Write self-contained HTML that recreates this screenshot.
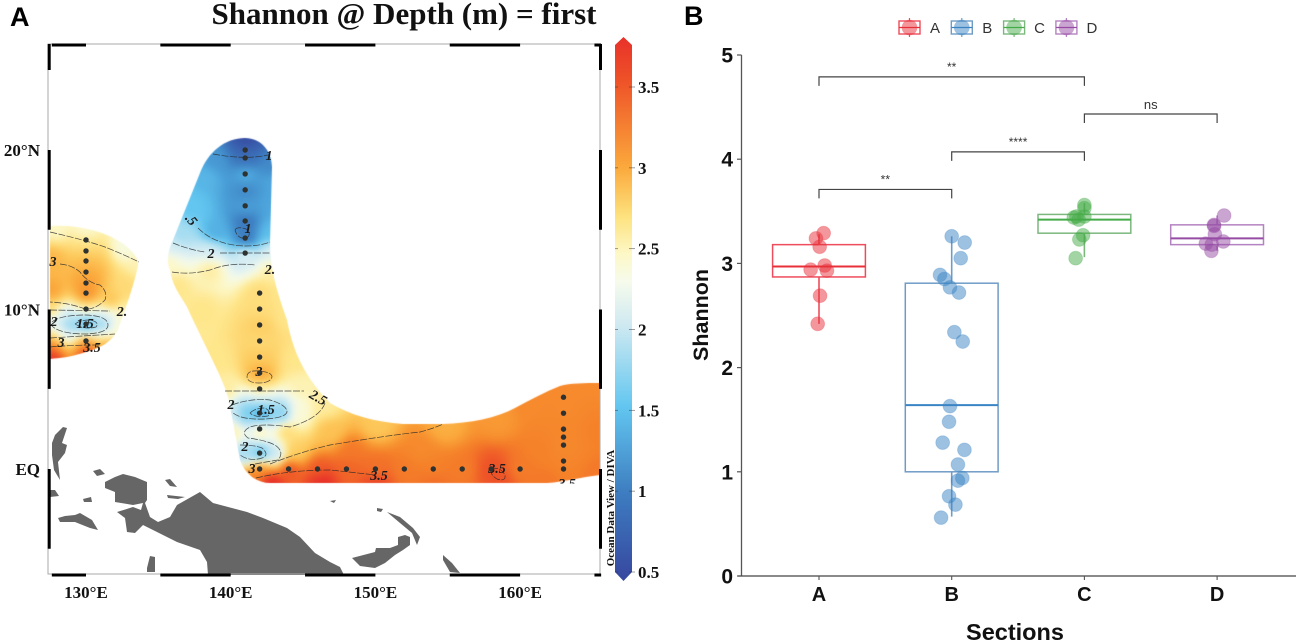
<!DOCTYPE html>
<html lang="en">
<head>
<meta charset="utf-8">
<title>Shannon diversity map and boxplot</title>
<style>
html,body{margin:0;padding:0;background:#fff;}
#figure{position:relative;width:1297px;height:642px;overflow:hidden;background:#fff;}
#field{position:absolute;left:0;top:0;}
#overlay{position:absolute;left:0;top:0;}
.serif{font-family:"Liberation Serif",serif;font-weight:bold;fill:#111;}
.sans{font-family:"Liberation Sans",sans-serif;}
.contour{fill:none;stroke:#2a2a2a;stroke-width:.7;stroke-dasharray:7 1.5;opacity:.85;}
.clabel{font-family:"Liberation Serif",serif;font-weight:bold;font-style:italic;font-size:14px;fill:#1a1a1a;text-anchor:middle;}
</style>
</head>
<body>
<div id="figure">
<canvas id="field" width="1297" height="642"></canvas>
<svg id="overlay" width="1297" height="642" viewBox="0 0 1297 642" xmlns="http://www.w3.org/2000/svg">
  <defs>
    <linearGradient id="cbgrad" x1="0" y1="0" x2="0" y2="1">
      <stop offset="0" stop-color="#e8312a"/>
      <stop offset=".08" stop-color="#ee5228"/>
      <stop offset=".24" stop-color="#fba93c"/>
      <stop offset=".33" stop-color="#fde27e"/>
      <stop offset=".40" stop-color="#fdf8c8"/>
      <stop offset=".45" stop-color="#f6fbec"/>
      <stop offset=".53" stop-color="#cfe9f1"/>
      <stop offset=".68" stop-color="#62c6f0"/>
      <stop offset=".84" stop-color="#3d7cc0"/>
      <stop offset="1" stop-color="#37479f"/>
    </linearGradient>
    <clipPath id="band-clip"><rect x="500" y="380" width="100" height="103.5"/></clipPath>
  </defs>

  <text x="10" y="26" class="sans" font-size="27" font-weight="bold" fill="#000">A</text>
  <text x="684" y="25" class="sans" font-size="27" font-weight="bold" fill="#000">B</text>
  <text x="404" y="24" class="serif" font-size="31" text-anchor="middle">Shannon @ Depth (m) = first</text>

  <g fill="#666">
    <path d="M105,482 L115,477 L123,474 L135,477 L147,482 L147,500 L145,503 L150,517 L158,522 L170,517 L177,505 L200,492 L213,503 L247,512 L263,518 L287,528 L300,537 L315,553 L330,562 L340,567 L344,575 L208,575 L207,562 L200,550 L177,542 L157,532 L143,525 L135,533 L127,532 L125,518 L117,512 L133,507 L141,510 L143,503 L133,505 L115,502 L115,492 L105,488 Z"/>
    <path d="M58,518 L65,516 L75,515 L80,513 L92,520 L98,530 L90,528 L75,522 L60,522 Z"/>
    <path d="M52,443 L55,435 L63,427 L67,428 L62,443 L67,445 L65,453 L58,462 L60,480 L54,470 L52,455 Z"/>
    <path d="M50,490 L55,490 L59,496 L50,497 Z"/>
    <path d="M93,471 L100,469 L105,474 L97,476 Z"/>
    <path d="M83,499 L91,497 L92,502 L84,502 Z"/>
    <path d="M165,480 L170,479 L177,487 L170,486 Z"/>
    <path d="M167,495 L185,497 L178,499 L168,498 Z"/>
    <path d="M147,568 L150,556 L155,557 L155,572 L147,572 Z"/>
    <path d="M352,558 L375,552 L376,548 L390,548 L398,545 L398,537 L405,535 L410,537 L410,545 L403,550 L395,555 L385,563 L375,568 L360,566 Z"/>
    <path d="M387,512 L400,517 L413,528 L420,537 L417,545 L412,533 L400,523 Z"/>
    <path d="M443,555 L452,563 L460,573 L450,572 L443,560 Z"/>
    <path d="M377,508 L383,509 L381,512 L377,511 Z"/>
    <path d="M330,501 L336,500 L334,503 Z"/>
  </g>

  <g>
    <path class="contour" d="M213,154 Q245,160 268,155"/>
    <path class="contour" d="M235,230 Q237,226 246,229 Q252,233 247,238 Q238,240 235,230"/>
    <path class="contour" d="M198,228 Q215,245 245,246 Q260,246 270,242"/>
    <path class="contour" d="M173,243 Q190,250 205,252 M220,253 L270,253"/>
    <path class="contour" d="M172,272 Q190,275 210,270 Q230,262 255,265"/>
    <path class="contour" d="M50,232 Q85,240 105,247 Q125,255 139,262"/>
    <path class="contour" d="M60,264 Q72,265 80,272 Q88,283 100,285 Q108,292 105,300 Q95,310 85,309 Q70,303 50,302"/>
    <path class="contour" d="M50,310 L110,311"/>
    <path class="contour" d="M52,322 Q60,315 86,315 Q108,316 108,325 Q108,333 86,334 Q60,334 52,326"/>
    <path class="contour" d="M75,324 Q80,320 90,320 Q100,322 96,327 Q85,330 75,324"/>
    <path class="contour" d="M50,338 L115,334"/>
    <path class="contour" d="M50,347 Q70,345 100,345"/>
    <path class="contour" d="M247,377 Q247,370 259,371 Q272,372 272,377 Q270,383 259,383 Q248,383 247,377"/>
    <path class="contour" d="M225,391 L304,391"/>
    <path class="contour" d="M232,405 Q250,398 270,400 Q287,405 287,412 Q285,418 265,419 Q240,420 232,412"/>
    <path class="contour" d="M250,413 Q255,408 265,408 Q272,412 268,416 Q255,418 250,413"/>
    <path class="contour" d="M325,403 Q320,418 290,427 Q262,423 250,427 Q240,432 248,438 Q265,440 275,445 Q285,452 278,460 Q265,462 250,465"/>
    <path class="contour" d="M240,445 Q255,445 262,448 Q270,455 262,458 Q250,462 240,455"/>
    <path class="contour" d="M270,464 Q300,452 330,445 Q390,435 420,432 Q435,428 443,424"/>
    <path class="contour" d="M256,478 Q290,470 330,470 Q350,472 375,475"/>
    <path class="contour" d="M491,469 Q500,466 505,475 Q506,482 497,479 Q490,475 491,469"/>
    <text class="clabel" x="191" y="224" transform="rotate(50 191 220)">.5</text>
    <text class="clabel" x="269" y="160">1</text>
    <text class="clabel" x="248" y="233">1</text>
    <text class="clabel" x="211" y="258">2</text>
    <text class="clabel" x="270" y="274">2.</text>
    <text class="clabel" x="53" y="266">3</text>
    <text class="clabel" x="122" y="316">2.</text>
    <text class="clabel" x="54" y="326">2</text>
    <text class="clabel" x="85" y="328">1.5</text>
    <text class="clabel" x="61" y="347">3</text>
    <text class="clabel" x="92" y="352">3.5</text>
    <text class="clabel" x="259" y="376">3</text>
    <text class="clabel" x="318" y="402" transform="rotate(30 318 398)">2.5</text>
    <text class="clabel" x="231" y="409">2</text>
    <text class="clabel" x="266" y="414">1.5</text>
    <text class="clabel" x="245" y="451">2</text>
    <text class="clabel" x="252" y="473">3</text>
    <text class="clabel" x="379" y="480">3.5</text>
    <text class="clabel" x="497" y="473">3.5</text>
    <text class="clabel" x="567" y="488" clip-path="url(#band-clip)">3.5</text>
  </g>

  <g id="station-dots"></g>
  <g id="map-frame"></g>
  <g id="map-axis-labels"></g>

  <g>
    <path d="M615,45 L623.5,37 L632,45 L632,572 L623.5,581 L615,572 Z" fill="url(#cbgrad)"/>
    <g id="colorbar-ticks"></g>
    <text x="614" y="508" class="serif" font-size="11" text-anchor="middle" transform="rotate(-90 614 508)">Ocean Data View / DIVA</text>
  </g>

  <g id="boxplot"></g>
</svg>
</div>

<script>
/* ---------- Map data (panel A): stations in degrees, Shannon values ---------- */
var stationLon = [130,130,130,130,130,130,130,130,130,
  141,141,141,141,141,141,141,141,
  142,142,142,142,142,142,142,142,142,142,142,
  144,146,148,150,152,154,156,158,160,163,
  163,163,163,163,163,163];
var stationLat = [14.36,13.67,13.04,12.35,11.66,11.03,10.03,9.09,8.03,
  20,19.5,18.5,17.5,16.5,15.55,14.48,13.54,
  11.03,10.03,9.03,8.03,7.02,6.02,5.02,3.51,2.51,1,0,
  0,0,0,0,0,0,0,0,0,0,
  4.5,3.5,2.5,2,1.5,0.5];
var stationValue = [2.45,2.65,2.85,3,3.1,3.2,2.6,1.1,3.3,
  .75,.95,1.35,1.1,1.25,.95,.95,2.05,
  2.58,2.58,2.7,2.62,2.72,3.02,2.45,1.1,2.55,1.45,3.2,
  3.5,3.45,3.4,3.32,3.28,3.25,3.28,3.5,3.28,3.25,
  3.2,3.2,3.22,3.22,3.2,3.22];
var fieldLon = [127.9,130,132.7,133.6,127.5,127.5,132.7,131.7,127.5,132.3,127.5,128.8,131.2,132.2,127.5,127.5,127.5,130,131.5,130,130,128.5,131.5,128.5,131.5,
  141,138.9,142.7,138.2,142.8,137.2,142.7,136.4,138.9,142.7,136,138.5,142.8,135.7,138.5,142.8,136.2,143.4,137.9,143.8,138.9,144.4,139.6,144.8,
  140.3,140.8,143.5,144.6,142,142,140.1,143.8,141,143,144.4,146.5,146.9,150,148.2,154.7,153.1,158.4,161.3,160.7,163.8,165.3,165.3,165.3,
  142.7,141.3,146.2,150,154,158.6,161.9];
var fieldLat = [15.2,15.1,14,12.8,13,11.2,11.5,10.6,10.1,10,9.1,9.1,9.1,9,8.3,7.8,7,7.3,7.8,9.6,8.6,9.6,9.6,8.6,8.6,
  20.7,19.4,19,18.4,18.1,16.6,16.6,14.7,14.9,14.9,14,13.7,13.6,13,12.6,12.5,11.5,10.9,10,9.7,6.8,6.8,5,5.3,
  3.5,3.5,3.5,3.5,4.2,2.9,2.45,2.45,1,1,1.2,4,2.4,2.9,1.2,2.8,1.2,3.2,1.2,4.2,5.3,5.3,2.4,-.4,
  -.8,-.6,-.8,-.8,-.8,-.8,-.8];
var fieldValue = [2.35,2.3,2.25,2.4,2.9,3.05,2.6,2.8,2.6,2.4,2,1.55,1.55,2.3,2.6,3.4,3.75,3.6,3,1.7,2,2,2.1,2.1,2.3,
  .55,1.2,1.1,1.4,1.3,1.5,1.3,1.75,1.35,1.45,2,2,2.05,2.35,2.45,2.45,2.5,2.5,2.5,2.5,2.5,2.5,2.45,2.4,
  2,1.5,1.6,2.3,1.85,1.85,2.45,2.6,1.75,1.9,2.7,2.45,2.8,2.75,3.3,2.95,3.2,3.1,3.25,3.2,3.2,3.2,3.25,3.3,
  3.85,3.3,3.8,3.6,3.35,3.5,3.3];
var colorTicks = [0.5,1,1.5,2,2.5,3,3.5];
var colorTickLabels = ["0.5","1","1.5","2","2.5","3","3.5"];
var lonTicks = [130,140,150,160];
var lonTickLabels = ["130°E","140°E","150°E","160°E"];
var latTicks = [20,10,0];
var latTickLabels = ["20°N","10°N","EQ"];
var rampValues = [0.5,1,1.25,1.5,1.75,2,2.2,2.35,2.5,2.75,3,3.25,3.5,3.75];
var rampColors = ["#37479f","#3d7cc0","#4a9fd8","#62c6f0","#a3dcf1","#d6edf3","#f5fbee","#fdf8c8","#fee68a","#fdc85a","#fba93c","#f58229","#ee5228","#e8312a"];

/* ---------- Boxplot data (panel B) ---------- */
var categories = ["A","B","C","D"];
var boxQ1 = [2.87,1.0,3.29,3.18];
var boxMedian = [2.97,1.64,3.42,3.24];
var boxQ3 = [3.18,2.81,3.47,3.37];
var whiskerLow = [2.42,0.57,3.06,3.12];
var whiskerHigh = [3.28,3.26,3.58,3.46];
var valuesA = [3.29,3.24,3.16,2.94,2.98,2.93,2.69,2.42];
var jitterA = [.035,-.023,.005,-.063,.043,.06,.008,-.01];
var valuesB = [3.26,3.2,3.05,2.89,2.85,2.77,2.72,2.34,2.25,1.63,1.48,1.28,1.21,1.07,.94,.915,.765,.685,.56];
var jitterB = [0,.098,.068,-.088,-.055,-.013,.055,.02,.083,-.013,-.02,-.068,.096,.047,.08,.047,-.02,.028,-.08];
var valuesC = [3.56,3.53,3.44,3.45,3.42,3.45,3.27,3.23,3.05];
var jitterC = [0,0,-.08,0,-.043,-.06,-.01,-.038,-.066];
var valuesD = [3.46,3.37,3.36,3.28,3.21,3.19,3.18,3.12];
var jitterD = [.053,-.023,-.023,-.017,.047,-.085,-.04,-.043];
var yTicks = [0,1,2,3,4,5];
var bracketFrom = [0,1,2,0];
var bracketTo = [2,2,3,1];
var bracketLevel = [4.79,4.07,4.434,3.71];
var bracketLabels = ["**","****","ns","**"];

/* ---------- Axis functions ---------- */
function lonX(lon){return 86+(lon-130)*14.47;}
function latY(lat){return 469-lat*15.95;}
function catX(i){return 819+i*132.7;}
function valY(v){return 576-v*104.2;}
function colorbarY(v){return 572-(v-0.5)*(572-87)/3;}

var NS='http://www.w3.org/2000/svg';
function mk(parent,tag,attrs,text){
  var el=document.createElementNS(NS,tag);
  for(var k in attrs){el.setAttribute(k,attrs[k]);}
  if(text!==undefined){el.textContent=text;}
  parent.appendChild(el);
  return el;
}

/* ---------- Field rendering ---------- */
function hexToRgb(h){return [parseInt(h.substr(1,2),16),parseInt(h.substr(3,2),16),parseInt(h.substr(5,2),16)];}
var rampRgb=rampColors.map(hexToRgb);
function rampColor(v){
  if(v<=rampValues[0]){return rampRgb[0];}
  for(var i=1;i<rampValues.length;i++){
    if(v<=rampValues[i]){
      var t=(v-rampValues[i-1])/(rampValues[i]-rampValues[i-1]);
      var a=rampRgb[i-1],b=rampRgb[i];
      return [a[0]+(b[0]-a[0])*t,a[1]+(b[1]-a[1])*t,a[2]+(b[2]-a[2])*t];
    }
  }
  return rampRgb[rampRgb.length-1];
}
function drawField(){
  var cv=document.getElementById('field');
  var ctx=cv.getContext('2d');
  var px=[],py=[],pv=[],i;
  for(i=0;i<stationLon.length;i++){px.push(lonX(stationLon[i]));py.push(latY(stationLat[i]));pv.push(stationValue[i]);}
  for(i=0;i<fieldLon.length;i++){px.push(lonX(fieldLon[i]));py.push(latY(fieldLat[i]));pv.push(fieldValue[i]);}
  var step=2,x0=20,y0=115,w=Math.ceil(610/step),h=Math.ceil(395/step);
  var off=document.createElement('canvas');off.width=w;off.height=h;
  var octx=off.getContext('2d');
  var img=octx.createImageData(w,h);
  for(var r=0;r<h;r++){
    for(var c=0;c<w;c++){
      var X=x0+c*step,Y=y0+r*step,sw=0,sv=0;
      for(i=0;i<px.length;i++){
        var dx=X-px[i],dy=Y-py[i];
        var d2=dx*dx+dy*dy+60;
        var wt=1/(d2*d2);
        sw+=wt;sv+=wt*pv[i];
      }
      var col=rampColor(sv/sw);
      var o=(r*w+c)*4;
      img.data[o]=col[0];img.data[o+1]=col[1];img.data[o+2]=col[2];img.data[o+3]=255;
    }
  }
  octx.putImageData(img,0,0);
  ctx.save();
  var mask=new Path2D('M50,226 C75,224 105,230 125,245 C135,253 139,260 138,266 C134,285 125,310 118,330 C112,340 105,347 83,353 C70,357 60,358 50,359 Z '+
    'M245,138 C262,138 272,152 272,167 L270,243 C270,270 278,295 287,320 C292,345 300,372 330,403 C350,415 375,422 403,424 L443,424 C470,423 497,418 515,408 C530,400 545,392 560,386 C570,383 585,383 600,383 L600,475 C580,477 565,482 547,483 L270,483 C258,483 245,475 240,460 L232,417 C230,405 228,396 225,388 C218,370 205,345 193,320 L187,307 C180,295 172,285 170,270 C166,262 168,250 173,240 L200,173 C208,152 225,138 245,138 Z');
  ctx.clip(mask);
  ctx.imageSmoothingEnabled=true;
  ctx.filter='blur(3px)';
  ctx.drawImage(off,x0,y0,w*step,h*step);
  ctx.restore();
}
drawField();

/* ---------- Station dots ---------- */
var dots=document.getElementById('station-dots');
stationLon.forEach(function(lon,i){
  var c=mk(dots,'circle',{cx:lonX(lon),cy:latY(stationLat[i]),r:2.7,fill:'#2e3230'});
  
  
});

/* ---------- Map frame ---------- */
var frame=document.getElementById('map-frame');
var frameRect=mk(frame,'rect',{x:48,y:44,width:552,height:530,fill:'none',stroke:'#aaa','stroke-width':1});


var edgeLatStart=[26.4,20,10,0];
var edgeLatEnd=[25,15,5.02,-5];
edgeLatStart.forEach(function(s,i){
  var y1=latY(s),y2=latY(edgeLatEnd[i]);
  if(i===0){y2=70;y1=44;}
  [49.2,600.5].forEach(function(xp){
    var l=mk(frame,'line',{x1:xp,x2:xp,y1:y1,y2:y2,stroke:'#000','stroke-width':3});
    
    
  });
});
var edgeLonStart=[127.5,135,145,155,165];
var edgeLonEnd=[130,140,150,160,165.6];
edgeLonStart.forEach(function(s,i){
  [45,575].forEach(function(yp){
    var l=mk(frame,'line',{x1:lonX(s)+2,x2:lonX(edgeLonEnd[i]),y1:yp,y2:yp,stroke:'#000','stroke-width':3});
    
    
  });
});

/* ---------- Map axis labels ---------- */
var mal=document.getElementById('map-axis-labels');
lonTicks.forEach(function(t,i){
  var e=mk(mal,'text',{x:lonX(t),y:598,'text-anchor':'middle','class':'serif','font-size':17},lonTickLabels[i]);
  
  
});
latTicks.forEach(function(t,i){
  var e=mk(mal,'text',{x:40,y:latY(t)+6,'text-anchor':'end','class':'serif','font-size':17},latTickLabels[i]);
  
  
});

/* ---------- Colorbar ticks ---------- */
var cbt=document.getElementById('colorbar-ticks');
colorTicks.forEach(function(v,i){
  var y=colorbarY(v);
  var a=mk(cbt,'line',{x1:615,x2:618,y1:y,y2:y,stroke:'#333','stroke-width':.8,opacity:.6});
  
  
  var b=mk(cbt,'line',{x1:629,x2:635,y1:y,y2:y,stroke:'#333','stroke-width':.8,opacity:.6});
  
  
  var t=mk(cbt,'text',{x:638,y:y+6,'class':'serif','font-size':17},colorTickLabels[i]);
  
  
});

/* ---------- Boxplot ---------- */
var bp=document.getElementById('boxplot');
var groupColor=['#e8303a','#3a84c4','#45ab48','#964ba4'];
var boxStroke=['#ee4c5c','#6f9cc6','#7cb87e','#b583c2'];
var pointValues=[valuesA,valuesB,valuesC,valuesD];
var pointJitter=[jitterA,jitterB,jitterC,jitterD];
var axisY=mk(bp,'line',{x1:741.5,x2:741.5,y1:valY(5),y2:valY(0),stroke:'#555','stroke-width':1.3});


var axisX=mk(bp,'line',{x1:738,x2:1296,y1:valY(0),y2:valY(0),stroke:'#444','stroke-width':1.3});


yTicks.forEach(function(v){
  var tk=mk(bp,'line',{x1:737,x2:741.5,y1:valY(v),y2:valY(v),stroke:'#555','stroke-width':1.2});
  
  
  var tl=mk(bp,'text',{x:733,y:valY(v)+7.5,'text-anchor':'end','class':'sans','font-size':21,'font-weight':'bold',fill:'#111'},String(v));
  
  
});
categories.forEach(function(cat,i){
  var x=catX(i);
  var tk=mk(bp,'line',{x1:x,x2:x,y1:576,y2:580,stroke:'#555','stroke-width':1.1});
  
  
  var tl=mk(bp,'text',{x:x,y:601,'text-anchor':'middle','class':'sans','font-size':20,'font-weight':'bold',fill:'#111'},cat);
  
  

  var wl=mk(bp,'line',{x1:x,x2:x,y1:valY(whiskerHigh[i]),y2:valY(boxQ3[i]),stroke:boxStroke[i],'stroke-width':1.6});
  
  
  var wu=mk(bp,'line',{x1:x,x2:x,y1:valY(boxQ1[i]),y2:valY(whiskerLow[i]),stroke:boxStroke[i],'stroke-width':1.6});
  
  
  var bx=mk(bp,'rect',{x:x-46.4,width:92.8,y:valY(boxQ3[i]),height:valY(boxQ1[i])-valY(boxQ3[i]),fill:'none',stroke:boxStroke[i],'stroke-width':1.5});
  
  
  var md=mk(bp,'line',{x1:x-46.4,x2:x+46.4,y1:valY(boxMedian[i]),y2:valY(boxMedian[i]),stroke:groupColor[i],'stroke-width':2});
  
  
  pointValues[i].forEach(function(v,j){
    var c=mk(bp,'circle',{cx:x+pointJitter[i][j]*132.7,cy:valY(v),r:6.9,fill:groupColor[i],'fill-opacity':.5,stroke:groupColor[i],'stroke-opacity':.25,'stroke-width':1});
    
    
  });
});
bracketFrom.forEach(function(a,i){
  var x1=catX(a),x2=catX(bracketTo[i]),y=valY(bracketLevel[i]);
  var p=mk(bp,'path',{d:'M'+x1+','+(y+9)+' L'+x1+','+y+' L'+x2+','+y+' L'+x2+','+(y+9),fill:'none',stroke:'#444','stroke-width':1.2});
  
  
  var isNs=bracketLabels[i]==='ns';
  var t=mk(bp,'text',{x:(x1+x2)/2,y:isNs?y-5:y-6,'text-anchor':'middle','class':'sans','font-size':isNs?13:12,fill:'#333'},bracketLabels[i]);
  
  
});
var yTitle=mk(bp,'text',{x:708,y:315,'text-anchor':'middle','class':'sans','font-size':21.5,'font-weight':'bold',fill:'#111',transform:'rotate(-90 708 315)'},'Shannon');


var xTitle=mk(bp,'text',{x:1015,y:640,'text-anchor':'middle','class':'sans','font-size':23.5,'font-weight':'bold',fill:'#111'},'Sections');



/* ---------- Legend ---------- */
var legendG=mk(bp,'g',{});


categories.forEach(function(cat,i){
  var kx=899+i*52.3;
  var entry=mk(legendG,'g',{});
  
  
  mk(entry,'line',{x1:kx+10.5,x2:kx+10.5,y1:18,y2:37,stroke:boxStroke[i],'stroke-width':1.2});
  mk(entry,'rect',{x:kx,y:21,width:21,height:13,fill:'#fff',stroke:boxStroke[i],'stroke-width':1.4});
  mk(entry,'circle',{cx:kx+10.5,cy:27.5,r:7.8,fill:groupColor[i],'fill-opacity':.5});
  mk(entry,'line',{x1:kx,x2:kx+21,y1:27.5,y2:27.5,stroke:groupColor[i],'stroke-width':1.3});
  mk(entry,'text',{x:kx+36,y:33,'text-anchor':'middle','class':'sans','font-size':15,fill:'#333'},cat);
});
</script>
</body>
</html>
